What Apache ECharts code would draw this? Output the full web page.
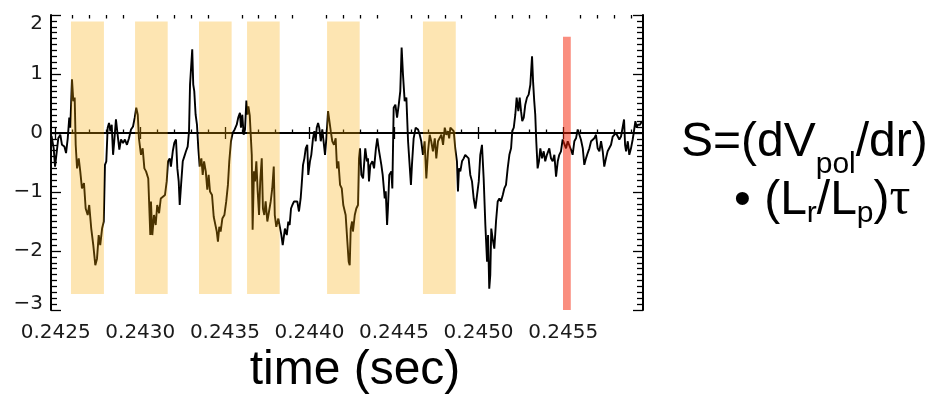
<!DOCTYPE html>
<html>
<head>
<meta charset="utf-8">
<script src="https://cdn.jsdelivr.net/npm/echarts@6/dist/echarts.min.js"></script>
<style>
  html, body { margin: 0; padding: 0; background: #ffffff; }
  #chart { width: 947px; height: 401px; }
</style>
</head>
<body>
<div id="chart"></div>
<script>
// Record timing: samples are stored as microseconds since the start of the record.
const recordStart = 0.242472;   // s
const recordLengthUs = 3500;

const sampleUs = [
  3, 16, 24, 35, 43, 55, 65, 79, 89, 99, 108, 114, 124, 132, 140, 146, 154, 164, 173, 183,
  195, 205, 217, 226, 238, 250, 262, 272, 282, 291, 302, 312, 319, 327, 335, 343, 351, 359, 367, 374,
  384, 394, 404, 414, 426, 437, 449, 461, 473, 485, 495, 504, 513, 520, 532, 542, 552, 562, 575, 587,
  591, 599, 609, 619, 628, 639, 649, 660, 674, 684, 692, 702, 709, 720, 729, 739, 747, 755, 761, 769,
  779, 788, 798, 808, 816, 822, 829, 835, 841, 847, 855, 863, 871, 879, 889, 897, 905, 915, 924, 932,
  940, 952, 962, 971, 980, 987, 995, 1003, 1013, 1025, 1036, 1046, 1054, 1064, 1074, 1086, 1098, 1107, 1117, 1123,
  1131, 1139, 1147, 1155, 1161, 1167, 1175, 1187, 1192, 1200, 1206, 1214, 1222, 1230, 1237, 1246, 1253, 1261, 1269, 1279,
  1289, 1299, 1308, 1317, 1323, 1332, 1344, 1354, 1362, 1370, 1378, 1383, 1394, 1403, 1411, 1419, 1427, 1437, 1447, 1456,
  1466, 1476, 1482, 1490, 1498, 1506, 1515, 1521, 1531, 1539, 1549, 1557, 1565, 1571, 1579, 1586, 1595, 1604, 1614, 1620,
  1628, 1638, 1645, 1654, 1663, 1673, 1683, 1691, 1699, 1709, 1719, 1728, 1742, 1752, 1760, 1766, 1772, 1780, 1785, 1796,
  1805, 1815, 1821, 1827, 1835, 1845, 1858, 1868, 1874, 1880, 1888, 1900, 1910, 1921, 1929, 1937, 1945, 1953, 1961, 1973,
  1979, 1987, 1992, 2000, 2012, 2018, 2026, 2036, 2046, 2056, 2065, 2073, 2081, 2091, 2101, 2111, 2118, 2128, 2134, 2144,
  2156, 2170, 2180, 2189, 2199, 2209, 2219, 2229, 2239, 2248, 2258, 2269, 2278, 2288, 2298, 2308, 2318, 2328, 2337, 2347,
  2354, 2361, 2371, 2381, 2390, 2400, 2406, 2412, 2420, 2430, 2440, 2449, 2459, 2469, 2479, 2489, 2499, 2509, 2519, 2529,
  2538, 2548, 2558, 2568, 2578, 2584, 2591, 2597, 2603, 2611, 2621, 2631, 2641, 2651, 2660, 2671, 2680, 2690, 2700, 2710,
  2720, 2727, 2736, 2745, 2753, 2763, 2771, 2779, 2786, 2795, 2804, 2814, 2824, 2834, 2844, 2850, 2857, 2863, 2869, 2877,
  2885, 2893, 2903, 2913, 2922, 2932, 2946, 2956, 2966, 2976, 2986, 2996, 3005, 3015, 3025, 3035, 3045, 3055, 3064, 3074,
  3084, 3094, 3104, 3114, 3123, 3133, 3144, 3153, 3163, 3173, 3183, 3193, 3203, 3212, 3222, 3232, 3242, 3252, 3262, 3271,
  3281, 3291, 3301, 3311, 3321, 3330, 3340, 3350, 3360, 3370, 3380, 3388, 3394, 3400, 3410, 3419, 3429, 3439, 3445, 3455,
  3463, 3469, 3482, 3494
];

const signal = [
  -0.05, -0.26, -0.57, -0.60, -0.09, -0.03, -0.20, -0.23, -0.34, -0.09, 0.26, 0.09, 0.91, 0.54, 0.60, -0.20, -0.60, -0.43, -0.65, -0.94,
  -0.85, -1.28, -1.39, -1.22, -1.62, -1.90, -2.24, -2.13, -1.73, -1.90, -1.62, -1.50, -0.54, -0.48, 0.09, 0.17, 0.03, 0.14, -0.37, -0.14,
  0.23, -0.03, -0.28, -0.11, -0.17, -0.11, -0.20, -0.09, 0.06, 0.11, 0.26, 0.43, 0.31, -0.09, -0.37, -0.26, -0.60, -0.65, -0.77, -1.73,
  -1.16, -1.73, -1.39, -1.56, -1.22, -1.36, -1.11, -1.08, -1.05, -0.82, -0.48, -0.43, -0.57, -0.31, -0.17, -0.11, -0.60, -0.82, -1.22, -0.88,
  -0.48, -0.40, -0.31, -0.23, 0.03, 0.82, 0.79, 1.42, 0.82, 0.71, 0.31, 0.14, -0.26, -0.57, -0.43, -0.71, -0.48, -0.65, -0.96, -0.71,
  -0.99, -1.05, -1.42, -1.45, -1.67, -1.84, -1.59, -1.67, -1.45, -1.39, -1.16, -0.88, -0.48, -0.14, 0.00, 0.06, 0.14, 0.26, 0.34, 0.09,
  0.31, -0.03, 0.06, 0.55, 0.31, 0.45, 0.30, -0.37, -1.64, -0.65, -0.82, -0.48, -0.99, -1.39, -0.82, -0.43, -1.28, -1.39, -1.16, -1.50,
  -1.33, -1.16, -0.94, -0.57, -1.39, -1.59, -1.45, -1.45, -1.73, -1.90, -1.90, -1.62, -1.73, -1.50, -1.56, -1.28, -1.22, -1.16, -1.19, -1.16,
  -1.33, -1.11, -0.88, -0.54, -0.43, -0.26, -0.20, -0.71, -0.48, -0.37, -0.09, 0.03, -0.14, 0.09, 0.17, 0.09, -0.14, 0.06, 0.03, -0.37,
  -0.09, 0.37, 0.34, 0.03, -0.14, -0.20, -0.09, -0.60, -0.48, -0.88, -0.94, -1.22, -1.39, -1.84, -2.18, -2.24, -1.62, -1.50, -1.67, -1.39,
  -1.28, -1.22, -0.43, -0.26, -0.71, -0.77, -0.26, -0.48, -0.43, -0.82, -0.54, -0.48, -0.60, -0.26, -0.09, -0.26, -0.26, -0.54, -0.71, -1.11,
  -0.99, -1.56, -1.28, -0.71, -0.65, -0.94, 0.43, 0.48, 0.26, 0.48, 0.71, 1.45, 0.99, 0.54, 0.60, -0.14, -0.14, -0.88, -0.54, -0.09,
  0.09, 0.06, -0.03, -0.14, -0.37, -0.14, -0.77, -0.31, -0.03, -0.14, -0.31, -0.09, -0.43, -0.14, -0.14, -0.03, -0.20, 0.09, -0.03, 0.03,
  -0.09, 0.09, 0.06, 0.03, -0.26, -0.48, -0.99, -0.60, -0.65, -0.48, -0.43, -0.37, -0.37, -0.43, -0.71, -0.82, -1.11, -1.28, -1.05, -0.82,
  -0.37, -0.20, -0.77, -1.56, -2.18, -1.73, -2.64, -2.41, -1.62, -1.79, -1.96, -1.50, -1.16, -1.11, -1.16, -1.05, -0.94, -0.88, -0.60, -0.37,
  -0.26, 0.03, 0.09, 0.31, 0.60, 0.37, 0.60, 0.37, 0.20, 0.26, 0.48, 0.60, 0.65, 0.82, 1.30, 0.88, 0.54, 0.31, -0.14, -0.60,
  -0.48, -0.26, -0.43, -0.31, -0.48, -0.37, -0.26, -0.43, -0.48, -0.37, -0.74, -0.48, -0.37, -0.31, -0.11, -0.09, -0.26, -0.14, -0.17, -0.28,
  -0.37, -0.14, -0.09, 0.06, 0.03, -0.11, -0.26, -0.54, -0.43, -0.34, -0.26, -0.14, -0.17, -0.09, -0.03, -0.26, -0.31, -0.14, -0.31, -0.57,
  -0.43, -0.31, -0.28, -0.20, -0.06, -0.03, 0.00, 0.03, -0.11, -0.06, -0.09, 0.23, -0.20, -0.31, -0.14, -0.37, -0.26, -0.11, 0.00, 0.20,
  0.09, 0.14, 0.14, 0.20
];

// Shaded analysis windows (microseconds since record start) and their vertical extent
const windowStartUs = [118, 497, 875, 1159, 1632, 2199];
const windowEndUs   = [313, 690, 1068, 1352, 1825, 2393];
const windowTop = 1.89;
const windowBottom = -2.73;

// Highlighted instant
const markerStartUs = 3027;
const markerEndUs = 3073;
const markerTop = 1.63;
const markerBottom = -3;

// Axis ticks
const timeTicks = [0.2425, 0.2430, 0.2435, 0.2440, 0.2445, 0.2450, 0.2455];
const yMin = -3, yMax = 2;

const toSec = us => recordStart + us * 1e-6;
const xMin = recordStart;
const xMax = toSec(recordLengthUs);

// minor time ticks every 0.1 ms, excluding the labelled ones
const minorTimeTicks = [];
for (let k = Math.ceil(xMin * 1e4); k <= Math.floor(xMax * 1e4); k++) {
  if (k % 5 !== 0) minorTimeTicks.push(k / 1e4);
}

const seriesData = sampleUs.map((u, i) => [toSec(u), signal[i]]);

const areaData = windowStartUs.map((s, i) => [
  { xAxis: toSec(s), yAxis: windowTop, itemStyle: { color: 'rgb(248,168,0)', opacity: 0.3 } },
  { xAxis: toSec(windowEndUs[i]), yAxis: windowBottom }
]);
areaData.push([
  { xAxis: toSec(markerStartUs), yAxis: markerTop, itemStyle: { color: 'rgb(245,30,0)', opacity: 0.5 } },
  { xAxis: toSec(markerEndUs), yAxis: markerBottom }
]);

const frameLine = { show: true, lineStyle: { color: '#000', width: 2 } };
const tickLine = { color: '#000', width: 1.3 };
const labelFont = { fontFamily: 'DejaVu Sans', fontSize: 20, color: '#1a1a1a' };

function yLabel(v) {
  const s = (v < 0 ? '\u2212' : '') + Math.abs(v);
  if (v === yMax) return '{top|' + s + '}';
  if (v === yMin) return '{bot|' + s + '}';
  return s;
}

// Formula text laid out run by run (subscripts are smaller and lowered)
const measureCtx = document.createElement('canvas').getContext('2d');
function textRuns(x, baseline, parts) {
  const out = [];
  let cx = x;
  parts.forEach(([text, size, family, drop]) => {
    const font = size + 'px "' + family + '"';
    measureCtx.font = font;
    out.push({
      type: 'text', x: cx, y: baseline + drop - 0.35 * size, silent: true,
      style: { text: text, font: font, fill: '#000', align: 'left', verticalAlign: 'middle' }
    });
    cx += measureCtx.measureText(text).width;
  });
  return out;
}
const SANS = 'Liberation Sans';
const formula = [].concat(
  textRuns(681, 160, [['S=(dV', 48, SANS, 0], ['pol', 30, SANS, 15], ['/dr)', 48, SANS, 0]]),
  textRuns(734, 218, [['\u2022 (L', 48, SANS, 0], ['r', 30, SANS, 6], ['/L', 48, SANS, 0], ['p', 30, SANS, 6], [')', 48, SANS, 0], ['\u03c4', 52, 'Liberation Serif', 0]])
);

const chart = echarts.init(document.getElementById('chart'), null, { renderer: 'canvas' });
chart.setOption({
  animation: false,
  backgroundColor: '#ffffff',
  grid: [
    { left: 51, right: 304, top: 15, bottom: 91 },
    { left: 51, right: 304, top: 15, bottom: 91 }
  ],
  xAxis: [
    {
      gridIndex: 0, type: 'value', position: 'bottom', min: xMin, max: xMax,
      axisLine: frameLine,
      axisTick: { show: true, inside: true, length: 6, customValues: timeTicks, lineStyle: tickLine },
      axisLabel: Object.assign({ show: true, customValues: timeTicks, margin: 13, formatter: v => v.toFixed(4) }, labelFont),
      splitLine: { show: false }
    },
    {
      gridIndex: 0, type: 'value', position: 'top', min: xMin, max: xMax,
      axisLine: frameLine,
      axisTick: { show: true, inside: true, length: 6, customValues: timeTicks, lineStyle: tickLine },
      axisLabel: { show: false },
      splitLine: { show: false }
    },
    {
      gridIndex: 1, type: 'value', position: 'bottom', min: xMin, max: xMax,
      axisLine: { show: false },
      axisTick: { show: true, inside: true, length: 3.5, customValues: minorTimeTicks, lineStyle: tickLine },
      axisLabel: { show: false },
      splitLine: { show: false }
    },
    {
      gridIndex: 1, type: 'value', position: 'top', min: xMin, max: xMax,
      axisLine: { show: false },
      axisTick: { show: true, inside: true, length: 3.5, customValues: minorTimeTicks, lineStyle: tickLine },
      axisLabel: { show: false },
      splitLine: { show: false }
    }
  ],
  yAxis: [
    {
      gridIndex: 0, type: 'value', position: 'left', min: yMin, max: yMax, interval: 1,
      axisLine: frameLine,
      axisTick: { show: true, inside: true, length: 10, lineStyle: tickLine },
      minorTick: { show: true, splitNumber: 10, length: 6, lineStyle: tickLine },
      axisLabel: Object.assign({
        show: true, margin: 8, formatter: yLabel,
        rich: {
          top: Object.assign({ padding: [18, 0, 0, 0] }, labelFont),
          bot: Object.assign({ padding: [0, 0, 12, 0] }, labelFont)
        }
      }, labelFont),
      splitLine: { show: false }
    },
    {
      gridIndex: 0, type: 'value', position: 'right', min: yMin, max: yMax, interval: 1,
      axisLine: frameLine,
      axisTick: { show: true, inside: true, length: 10, lineStyle: tickLine },
      minorTick: { show: true, splitNumber: 10, length: 6, lineStyle: tickLine },
      axisLabel: { show: false },
      splitLine: { show: false }
    },
    {
      gridIndex: 1, type: 'value', show: false, min: yMin, max: yMax
    }
  ],
  series: [
    {
      type: 'line', xAxisIndex: 0, yAxisIndex: 0, z: 2,
      data: seriesData,
      showSymbol: false, symbol: 'none',
      lineStyle: { color: '#000', width: 1.9 },
      markLine: {
        silent: true, symbol: ['none', 'none'], label: { show: false }, z: 3,
        lineStyle: { color: '#000', type: 'solid', width: 1.5 },
        data: [{ yAxis: 0 }]
      }
    },
    {
      type: 'line', xAxisIndex: 0, yAxisIndex: 0, z: 10, silent: true,
      data: [],
      markArea: { silent: true, z: 10, data: areaData }
    }
  ],
  graphic: formula.concat([
    {
      type: 'text', x: 355, y: 371, silent: true,
      style: { text: 'time (sec)', font: '48px "Liberation Sans"', fill: '#000', align: 'center', verticalAlign: 'middle' }
    }
  ])
});
</script>
</body>
</html>
